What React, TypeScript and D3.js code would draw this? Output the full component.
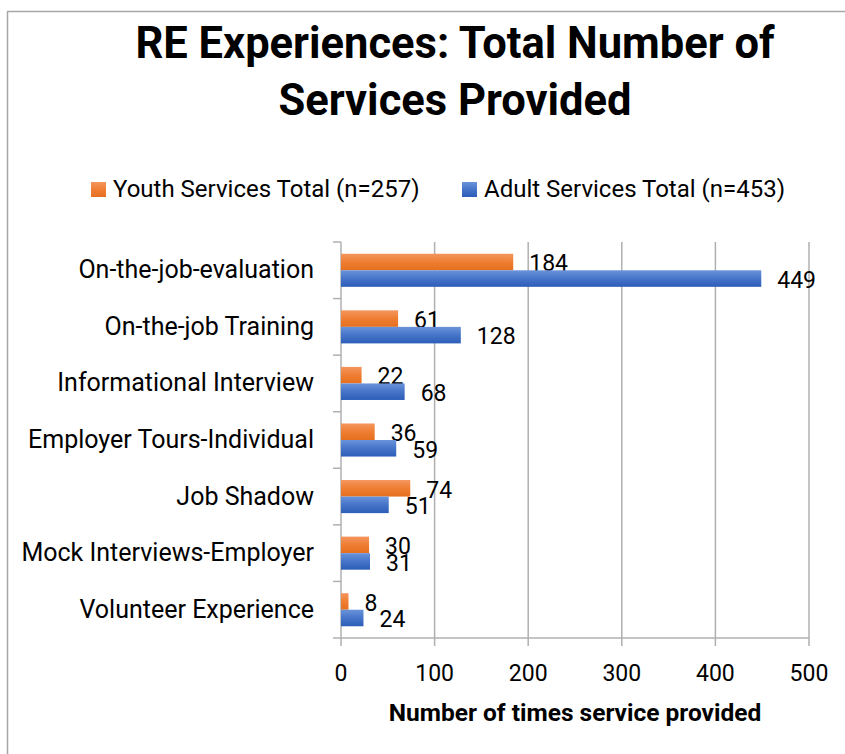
import React from "react";
import * as d3 from "d3";

const categories: string[] = [
  "On-the-job-evaluation",
  "On-the-job Training",
  "Informational Interview",
  "Employer Tours-Individual",
  "Job Shadow",
  "Mock Interviews-Employer",
  "Volunteer Experience",
];
const seriesNames: string[] = ["Youth Services Total (n=257)", "Adult Services Total (n=453)"];
const youthValues: number[] = [184, 61, 22, 36, 74, 30, 8];
const adultValues: number[] = [449, 128, 68, 59, 51, 31, 24];
const xTicks: number[] = [0, 100, 200, 300, 400, 500];
const titleLines: string[] = ["RE Experiences: Total Number of", "Services Provided"];
const xAxisTitle = "Number of times service provided";

const W = 845;
const H = 754;
const FONT = "Roboto, 'Open Sans', Arial, sans-serif";
const GRID = "#B0B0B0";

export default function App() {
  const x = d3.scaleLinear().domain([0, 500]).range([341, 809]);
  const y0 = d3.scaleBand<string>().domain(categories).range([242, 638]).paddingInner(0).paddingOuter(0);
  const y1 = d3
    .scaleBand<string>()
    .domain(seriesNames)
    .range([0, y0.bandwidth()])
    .paddingInner(0)
    .paddingOuter(0.71);
  const series = [
    { name: seriesNames[0], values: youthValues, fill: "url(#gOrange)" },
    { name: seriesNames[1], values: adultValues, fill: "url(#gBlue)" },
  ];
  const boundaries = [...categories.map((c) => y0(c) as number), y0.range()[1]];
  const [plotTop, plotBottom] = y0.range();

  return (
    <svg
      width={W}
      height={H}
      style={{ position: "absolute", left: 0, top: 0, background: "#fff" }}
      fontFamily={FONT}
    >
      <defs>
        <linearGradient id="gOrange" x1="0" y1="0" x2="0" y2="1">
          <stop offset="0" stopColor="#F4965E" />
          <stop offset="0.5" stopColor="#EF7E33" />
          <stop offset="1" stopColor="#E56F1E" />
        </linearGradient>
        <linearGradient id="gBlue" x1="0" y1="0" x2="0" y2="1">
          <stop offset="0" stopColor="#6A93DA" />
          <stop offset="0.5" stopColor="#4674C8" />
          <stop offset="1" stopColor="#2C5DB8" />
        </linearGradient>
      </defs>
      <rect x={0} y={0} width={W} height={H} fill="#fff" />
      {/* chart border */}
      <line x1={7.5} x2={7.5} y1={11} y2={H} stroke="#A6A6A6" strokeWidth={1.5} />
      <line x1={7} x2={W} y1={11.5} y2={11.5} stroke="#A6A6A6" strokeWidth={1.5} />

      {/* title */}
      <text x={455} y={58} textAnchor="middle" fontSize={43.5} fontWeight={700} fill="#000">
        {titleLines[0]}
      </text>
      <text x={455} y={115} textAnchor="middle" fontSize={43.5} fontWeight={700} fill="#000">
        {titleLines[1]}
      </text>

      {/* legend */}
      {series.map((s, i) => {
        const lx = i === 0 ? 91 : 462;
        return (
          <g key={s.name}>
            <rect x={lx} y={182} width={15} height={15} fill={s.fill} />
            <text x={lx + 22} y={197} fontSize={24} fill="#000">
              {s.name}
            </text>
          </g>
        );
      })}

      {/* gridlines */}
      {xTicks.map((t) => (
        <g key={t}>
          <line x1={x(t)} x2={x(t)} y1={plotTop} y2={plotBottom + 8} stroke={GRID} strokeWidth={1.5} />
          <text x={x(t)} y={681} textAnchor="middle" fontSize={23} fill="#000">
            {t}
          </text>
        </g>
      ))}
      <line x1={x(0)} x2={x(500)} y1={plotBottom} y2={plotBottom} stroke={GRID} strokeWidth={1.5} />
      {boundaries.map((b, i) => (
        <line key={i} x1={x(0) - 8} x2={x(0)} y1={b} y2={b} stroke={GRID} strokeWidth={1.5} />
      ))}

      {/* bars */}
      {categories.map((c, ci) => (
        <g key={c}>
          <text
            x={314}
            y={(y0(c) as number) + y0.bandwidth() / 2 + 8}
            textAnchor="end"
            fontSize={25}
            fill="#000"
          >
            {c}
          </text>
          {series.map((s) => {
            const by = (y0(c) as number) + (y1(s.name) as number);
            const v = s.values[ci];
            return (
              <g key={s.name}>
                <rect x={x(0)} y={by} width={x(v) - x(0)} height={y1.bandwidth()} fill={s.fill} />
                <text x={x(v) + 16} y={by + y1.bandwidth() + 1} fontSize={23} fill="#000">
                  {v}
                </text>
              </g>
            );
          })}
        </g>
      ))}

      {/* axis title */}
      <text x={(x(0) + x(500)) / 2} y={721} textAnchor="middle" fontSize={24.5} fontWeight={700} fill="#000">
        {xAxisTitle}
      </text>
    </svg>
  );
}
